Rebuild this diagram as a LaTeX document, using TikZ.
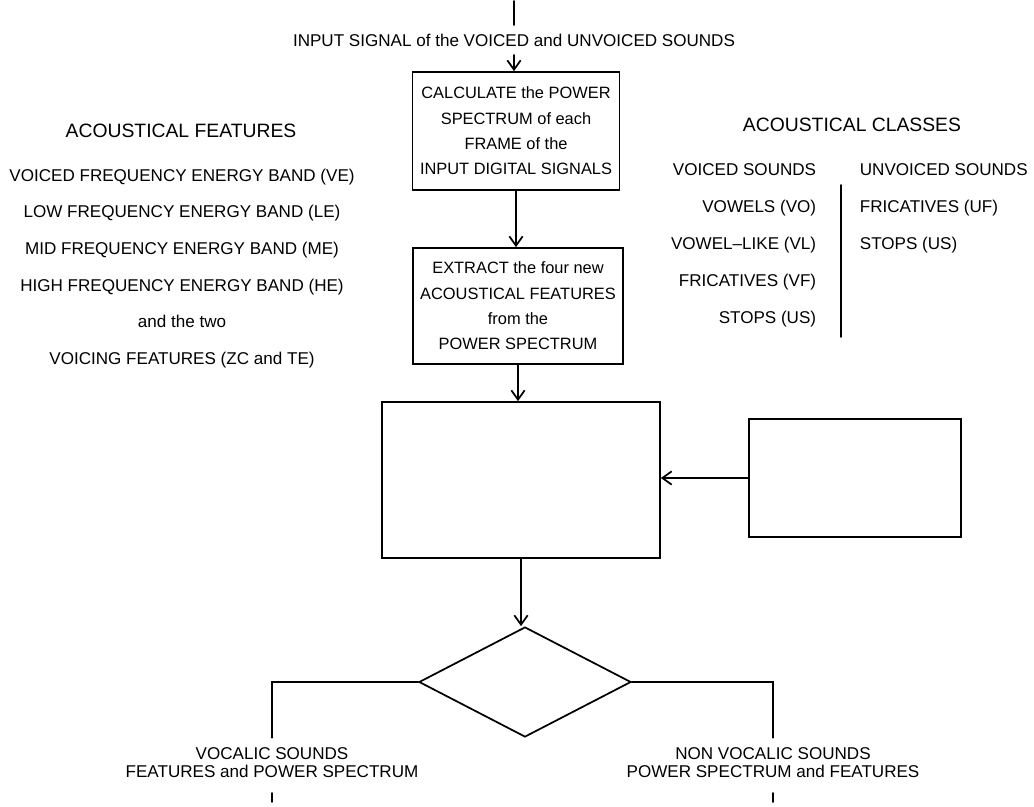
\documentclass[tikz,border=0pt]{standalone}
\usepackage{fontspec}
\setmainfont{Liberation Sans}
\usetikzlibrary{arrows.meta,shapes.geometric}

\tikzset{
  boxsize/.style 2 args={minimum width=#1*0.75pt,minimum height=#2*0.75pt},
  flowbox/.style={draw,rectangle,inner sep=0pt,align=center,
    font=\fontsize{12.3}{19}\selectfont},
  decision/.style={draw,diamond,inner sep=0pt},
  lbl/.style={inner sep=0pt,text height=9.2pt,text depth=0pt,
    font=\fontsize{12.8}{15}\selectfont},
  heading/.style={lbl,text height=10.4pt,font=\fontsize{14.5}{17}\selectfont},
  outcome/.style={inner xsep=0pt,inner ysep=7pt,align=center,
    font=\fontsize{12.8}{13.5}\selectfont},
  flow/.style={-{Straight Barb[length=7pt,width=10pt]}},
}

\begin{document}
\begin{tikzpicture}[x=0.75pt,y=-0.75pt,line width=1.3pt,line cap=round]
  \useasboundingbox (0,0) rectangle (1034,806);

  % processing chain
  \coordinate (src) at (514,1);
  \node[lbl,inner ysep=6pt] (input) at (514,40)
    {INPUT SIGNAL of the VOICED and UNVOICED SOUNDS};
  \node[flowbox,boxsize={207}{118}] (power) at (516,131)
    {CALCULATE the POWER\\SPECTRUM of each\\FRAME of the\\INPUT DIGITAL SIGNALS};
  \node[flowbox,boxsize={210}{116}] (extract) at (518,306)
    {EXTRACT the four new\\ACOUSTICAL FEATURES\\from the\\POWER SPECTRUM};
  \node[flowbox,boxsize={278}{156}] (classify) at (521,480) {};
  \node[flowbox,boxsize={212}{118}] (reference) at (855,478) {};
  \node[decision,boxsize={212}{110}] (test) at (525,682) {};

  \draw (src) -- (input.north);
  \draw[flow] (input.south) -- (input.south |- power.north);
  \draw[flow] (power.south) -- (power.south |- extract.north);
  \draw[flow] (extract.south) -- (extract.south |- classify.north);
  \draw[flow] (reference.west) -- (reference.west -| classify.east);
  \draw[flow] (classify.south) -- (classify.south |- test.north);

  % the two outputs
  \node[outcome] (vocalic) at (272,763)
    {VOCALIC SOUNDS\\FEATURES and POWER SPECTRUM};
  \node[outcome] (nonvocalic) at (773,763)
    {NON VOCALIC SOUNDS\\POWER SPECTRUM and FEATURES};
  \draw (test.west) -| (vocalic.north);
  \draw (test.east) -| (nonvocalic.north);
  \draw (vocalic.south |- 0,793) -- (vocalic.south |- 0,802);
  \draw (nonvocalic.south |- 0,793) -- (nonvocalic.south |- 0,802);

  % feature list
  \node[heading] (feat-title) at (181,131) {ACOUSTICAL FEATURES};
  \foreach \txt [count=\i] in {VOICED FREQUENCY ENERGY BAND (VE),
      LOW FREQUENCY ENERGY BAND (LE), MID FREQUENCY ENERGY BAND (ME),
      HIGH FREQUENCY ENERGY BAND (HE), and the two,
      VOICING FEATURES (ZC and TE)}
    \node[lbl] (feat-\i) at (182,{138.5+36.6*\i}) {\txt};

  % class table
  \node[heading] (class-title) at (852,125) {ACOUSTICAL CLASSES};
  \node[lbl,anchor=east] (voiced) at (817,169) {VOICED SOUNDS};
  \node[lbl,anchor=west] (unvoiced) at (859,169) {UNVOICED SOUNDS};
  \foreach \txt [count=\i] in {VOWELS (VO), VOWEL--LIKE (VL),
      FRICATIVES (VF), STOPS (US)}
    \node[lbl,anchor=east] (voiced-\i) at (817,{169+37*\i}) {\txt};
  \foreach \txt [count=\i] in {FRICATIVES (UF), STOPS (US)}
    \node[lbl,anchor=west] (unvoiced-\i) at (859,{169+37*\i}) {\txt};
  \draw (841,185) -- (841,337);
\end{tikzpicture}
\end{document}
